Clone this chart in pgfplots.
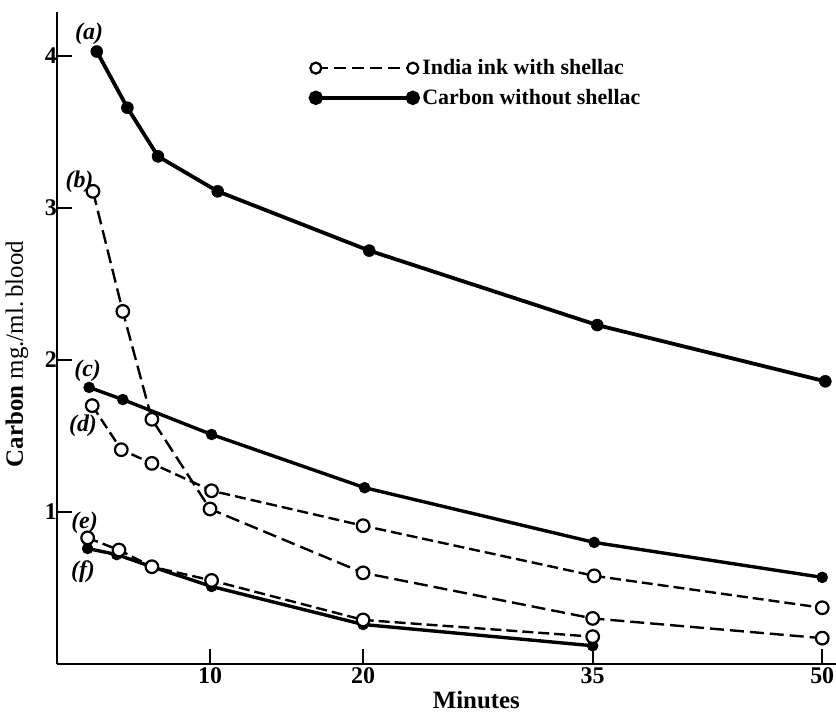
\documentclass[border=0pt]{standalone}
\usepackage{pgfplots}
\pgfplotsset{compat=1.18}
\usepackage{fontspec}
\setmainfont{Liberation Serif}
\pgfplotsset{
  solidser/.style={black, line width=3.8bp, mark=*, mark size=6bp, mark options={solid, fill=black, line width=0.5bp}},
  dashser/.style={black, line width=2.4bp, dash pattern=on 11bp off 5bp, mark=*, mark size=6.3bp, mark options={solid, fill=white, draw=black, line width=2.2bp}},
}
\begin{document}
\begin{tikzpicture}
\begin{axis}[
  at={(0,0)}, anchor=origin,
  scale only axis, width=779bp, height=652bp,
  xmin=0, xmax=50.9, ymin=0, ymax=4.29,
  axis lines=left, axis line style={-, line width=2.6bp},
  xtick={10,20,35,50}, ytick={1,2,3,4},
  tick align=inside, major tick length=15bp,
  tick style={line width=1.8bp, black},
  ticklabel style={font=\fontsize{24}{28}\selectfont\bfseries},
  yticklabel style={inner xsep=2bp, xshift=2bp},
  xticklabel style={inner ysep=3bp},
  /pgf/number format/assume math mode=true,
  clip=false,
  legend style={draw=none, fill=none, at={(axis cs:16.54,3.99)}, anchor=north west,
    font=\fontsize{22}{26}\selectfont\bfseries, row sep=9bp, inner sep=0pt,
    nodes={inner xsep=4bp}},
  legend image code/.code={\draw[#1] plot coordinates {(0bp,0bp) (97bp,0bp)};},
  legend cell align=left,
]
\addlegendimage{black, line width=2.2bp, dash pattern=on 12bp off 6bp, mark=*, mark size=5.5bp, mark options={solid, fill=white, draw=black, line width=2.2bp}}
\addlegendentry{India ink with shellac}
\addlegendimage{black, line width=3.4bp, mark=*, mark size=5.5bp, mark options={solid, fill=black}}
\addlegendentry{Carbon without shellac}

% (a) carbon without shellac
\addplot[solidser, forget plot] coordinates {(2.6,4.03) (4.6,3.66) (6.6,3.34) (10.5,3.11) (20.4,2.72) (35.3,2.23) (50.2,1.86)};
% (c)
\addplot[solidser, line width=3.4bp, mark size=5.5bp, forget plot] coordinates {(2.1,1.82) (4.3,1.74) (10.1,1.51) (20.1,1.16) (35.1,0.80) (50.0,0.57)};
% (f)
\addplot[solidser, line width=3.4bp, mark size=5.5bp, forget plot] coordinates {(2.0,0.76) (3.9,0.72) (6.2,0.64) (10.1,0.51) (20.0,0.26) (35.0,0.12)};
% (b) india ink with shellac
\addplot[dashser, dash pattern=on 14bp off 6bp, forget plot] coordinates {(2.35,3.11) (4.3,2.32) (6.2,1.61) (10.0,1.02) (20.0,0.60) (35.0,0.30) (50.0,0.17)};
% (d)
\addplot[dashser, forget plot] coordinates {(2.3,1.70) (4.2,1.41) (6.2,1.32) (10.1,1.14) (20.0,0.91) (35.1,0.58) (50.0,0.37)};
% (e)
\addplot[dashser, forget plot] coordinates {(2.0,0.83) (4.05,0.75) (6.2,0.64) (10.1,0.55) (20.0,0.29) (35.0,0.18)};

\node[font=\fontsize{24}{28}\selectfont\bfseries\itshape] at (axis cs:2.1,4.15) {(a)};
\node[font=\fontsize{24}{28}\selectfont\bfseries\itshape] at (axis cs:1.47,3.17) {(b)};
\node[font=\fontsize{24}{28}\selectfont\bfseries\itshape] at (axis cs:2.0,1.93) {(c)};
\node[font=\fontsize{24}{28}\selectfont\bfseries\itshape] at (axis cs:1.7,1.57) {(d)};
\node[font=\fontsize{24}{28}\selectfont\bfseries\itshape] at (axis cs:1.8,0.93) {(e)};
\node[font=\fontsize{24}{28}\selectfont\bfseries\itshape] at (axis cs:1.7,0.61) {(f)};

\node[rotate=90, font=\fontsize{25}{30}\selectfont] at ([xshift=-40bp]axis cs:0,2.04) {\textbf{Carbon} mg./ml.\,blood};
\node[font=\fontsize{25}{29}\selectfont\bfseries] at ([yshift=-36bp]axis cs:27.4,0) {Minutes};
\end{axis}
\pgfresetboundingbox
\path[use as bounding box] (-57bp,-50bp) rectangle (779bp,664bp);
\end{tikzpicture}
\end{document}
